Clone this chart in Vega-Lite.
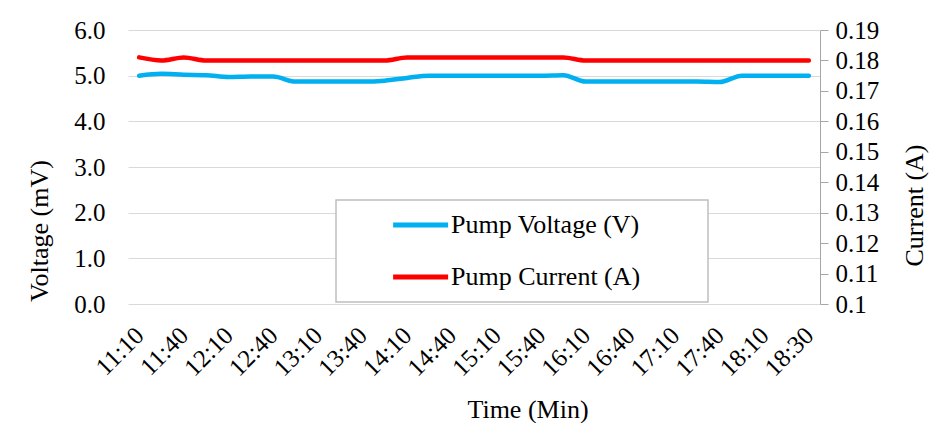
{
  "$schema": "https://vega.github.io/schema/vega-lite/v6.json",
  "width": 692,
  "height": 274,
  "autosize": {"type": "none"},
  "padding": {"left": 128, "top": 30, "right": 111, "bottom": 119},
  "background": "white",
  "config": {
    "view": {"stroke": null},
    "font": "Liberation Serif",
    "axis": {
      "labelFont": "Liberation Serif",
      "labelFontSize": 25,
      "labelColor": "#000000",
      "titleFont": "Liberation Serif",
      "titleFontSize": 26,
      "titleFontWeight": "normal",
      "titleColor": "#000000"
    }
  },
  "datasets": {
    "pump": [
      {"time": "11:10", "series": "Pump Voltage (V)", "value": 5.00},
      {"time": "11:25", "series": "Pump Voltage (V)", "value": 5.04},
      {"time": "11:40", "series": "Pump Voltage (V)", "value": 5.02},
      {"time": "11:55", "series": "Pump Voltage (V)", "value": 5.01},
      {"time": "12:10", "series": "Pump Voltage (V)", "value": 4.97},
      {"time": "12:25", "series": "Pump Voltage (V)", "value": 4.98},
      {"time": "12:40", "series": "Pump Voltage (V)", "value": 4.98},
      {"time": "12:55", "series": "Pump Voltage (V)", "value": 4.87},
      {"time": "13:10", "series": "Pump Voltage (V)", "value": 4.87},
      {"time": "13:25", "series": "Pump Voltage (V)", "value": 4.87},
      {"time": "13:40", "series": "Pump Voltage (V)", "value": 4.87},
      {"time": "13:55", "series": "Pump Voltage (V)", "value": 4.89},
      {"time": "14:10", "series": "Pump Voltage (V)", "value": 4.95},
      {"time": "14:25", "series": "Pump Voltage (V)", "value": 5.00},
      {"time": "14:40", "series": "Pump Voltage (V)", "value": 5.00},
      {"time": "14:55", "series": "Pump Voltage (V)", "value": 5.00},
      {"time": "15:10", "series": "Pump Voltage (V)", "value": 5.00},
      {"time": "15:25", "series": "Pump Voltage (V)", "value": 5.00},
      {"time": "15:40", "series": "Pump Voltage (V)", "value": 5.00},
      {"time": "15:55", "series": "Pump Voltage (V)", "value": 5.01},
      {"time": "16:10", "series": "Pump Voltage (V)", "value": 4.87},
      {"time": "16:25", "series": "Pump Voltage (V)", "value": 4.87},
      {"time": "16:40", "series": "Pump Voltage (V)", "value": 4.87},
      {"time": "16:55", "series": "Pump Voltage (V)", "value": 4.87},
      {"time": "17:10", "series": "Pump Voltage (V)", "value": 4.87},
      {"time": "17:25", "series": "Pump Voltage (V)", "value": 4.87},
      {"time": "17:40", "series": "Pump Voltage (V)", "value": 4.86},
      {"time": "17:55", "series": "Pump Voltage (V)", "value": 5.00},
      {"time": "18:10", "series": "Pump Voltage (V)", "value": 5.00},
      {"time": "18:20", "series": "Pump Voltage (V)", "value": 5.00},
      {"time": "18:30", "series": "Pump Voltage (V)", "value": 5.00},
      {"time": "11:10", "series": "Pump Current (A)", "value": 0.181},
      {"time": "11:25", "series": "Pump Current (A)", "value": 0.180},
      {"time": "11:40", "series": "Pump Current (A)", "value": 0.181},
      {"time": "11:55", "series": "Pump Current (A)", "value": 0.180},
      {"time": "12:10", "series": "Pump Current (A)", "value": 0.180},
      {"time": "12:25", "series": "Pump Current (A)", "value": 0.180},
      {"time": "12:40", "series": "Pump Current (A)", "value": 0.180},
      {"time": "12:55", "series": "Pump Current (A)", "value": 0.180},
      {"time": "13:10", "series": "Pump Current (A)", "value": 0.180},
      {"time": "13:25", "series": "Pump Current (A)", "value": 0.180},
      {"time": "13:40", "series": "Pump Current (A)", "value": 0.180},
      {"time": "13:55", "series": "Pump Current (A)", "value": 0.180},
      {"time": "14:10", "series": "Pump Current (A)", "value": 0.181},
      {"time": "14:25", "series": "Pump Current (A)", "value": 0.181},
      {"time": "14:40", "series": "Pump Current (A)", "value": 0.181},
      {"time": "14:55", "series": "Pump Current (A)", "value": 0.181},
      {"time": "15:10", "series": "Pump Current (A)", "value": 0.181},
      {"time": "15:25", "series": "Pump Current (A)", "value": 0.181},
      {"time": "15:40", "series": "Pump Current (A)", "value": 0.181},
      {"time": "15:55", "series": "Pump Current (A)", "value": 0.181},
      {"time": "16:10", "series": "Pump Current (A)", "value": 0.180},
      {"time": "16:25", "series": "Pump Current (A)", "value": 0.180},
      {"time": "16:40", "series": "Pump Current (A)", "value": 0.180},
      {"time": "16:55", "series": "Pump Current (A)", "value": 0.180},
      {"time": "17:10", "series": "Pump Current (A)", "value": 0.180},
      {"time": "17:25", "series": "Pump Current (A)", "value": 0.180},
      {"time": "17:40", "series": "Pump Current (A)", "value": 0.180},
      {"time": "17:55", "series": "Pump Current (A)", "value": 0.180},
      {"time": "18:10", "series": "Pump Current (A)", "value": 0.180},
      {"time": "18:20", "series": "Pump Current (A)", "value": 0.180},
      {"time": "18:30", "series": "Pump Current (A)", "value": 0.180}
    ]
  },
  "data": {"name": "pump"},
  "encoding": {
    "x": {
      "field": "time",
      "type": "ordinal",
      "sort": null,
      "scale": {"type": "point", "padding": 0.5},
      "axis": {
        "values": ["11:10", "11:40", "12:10", "12:40", "13:10", "13:40", "14:10", "14:40", "15:10", "15:40", "16:10", "16:40", "17:10", "17:40", "18:10", "18:30"],
        "labelAngle": -45,
        "labelAlign": "right",
        "labelBaseline": "middle",
        "labelPadding": 27,
        "ticks": false,
        "domain": false,
        "grid": false,
        "title": "Time (Min)",
        "titleX": 399.5,
        "titleY": 113,
        "titleAlign": "center",
        "titleBaseline": "alphabetic"
      }
    },
    "color": {
      "field": "series",
      "type": "nominal",
      "scale": {"domain": ["Pump Voltage (V)", "Pump Current (A)"], "range": ["#00B0F0", "#FF0000"]},
      "legend": {
        "title": null,
        "orient": "none",
        "legendX": 208,
        "legendY": 170,
        "direction": "vertical",
        "fillColor": "#FFFFFF",
        "strokeColor": "#BFBFBF",
        "padding": 12,
        "symbolType": "M-1,0H7M41.5,0",
        "symbolSize": 189,
        "symbolStrokeWidth": 5,
        "symbolOffset": 39,
        "labelOffset": 38,
        "rowPadding": 26,
        "labelFont": "Liberation Serif",
        "labelFontSize": 26,
        "labelColor": "#000000",
        "labelLimit": 0,
        "encode": {"legend": {"update": {"strokeWidth": {"value": 1.5}}}}
      }
    }
  },
  "layer": [
    {
      "transform": [{"filter": "datum.series === 'Pump Voltage (V)'"}],
      "mark": {"type": "line", "interpolate": "monotone", "strokeWidth": 4.5, "strokeCap": "round"},
      "encoding": {
        "y": {
          "field": "value",
          "type": "quantitative",
          "scale": {"domain": [0, 6], "nice": false},
          "axis": {
            "orient": "left",
            "values": [0, 1, 2, 3, 4, 5, 6],
            "format": ".1f",
            "grid": true,
            "gridColor": "#D9D9D9",
            "gridWidth": 1,
            "domain": false,
            "ticks": false,
            "labelPadding": 23,
            "labelBaseline": "middle",
            "title": "Voltage (mV)",
            "titleAngle": 270,
            "titleX": -81,
            "titleY": 200.5,
            "titleAlign": "center",
            "titleBaseline": "alphabetic"
          }
        }
      }
    },
    {
      "transform": [{"filter": "datum.series === 'Pump Current (A)'"}],
      "mark": {"type": "line", "interpolate": "monotone", "strokeWidth": 4.5, "strokeCap": "round"},
      "encoding": {
        "y": {
          "field": "value",
          "type": "quantitative",
          "scale": {"domain": [0.1, 0.19], "nice": false, "zero": false},
          "axis": {
            "orient": "right",
            "values": [0.1, 0.11, 0.12, 0.13, 0.14, 0.15, 0.16, 0.17, 0.18, 0.19],
            "format": ".2~f",
            "grid": false,
            "domain": true,
            "domainColor": "#A6A6A6",
            "tickColor": "#A6A6A6",
            "tickSize": 8,
            "labelPadding": 7,
            "labelBaseline": "middle",
            "title": "Current (A)",
            "titleAngle": 270,
            "titleX": 102,
            "titleY": 175,
            "titleAlign": "center",
            "titleBaseline": "alphabetic"
          }
        }
      }
    }
  ],
  "resolve": {"scale": {"y": "independent"}}
}
